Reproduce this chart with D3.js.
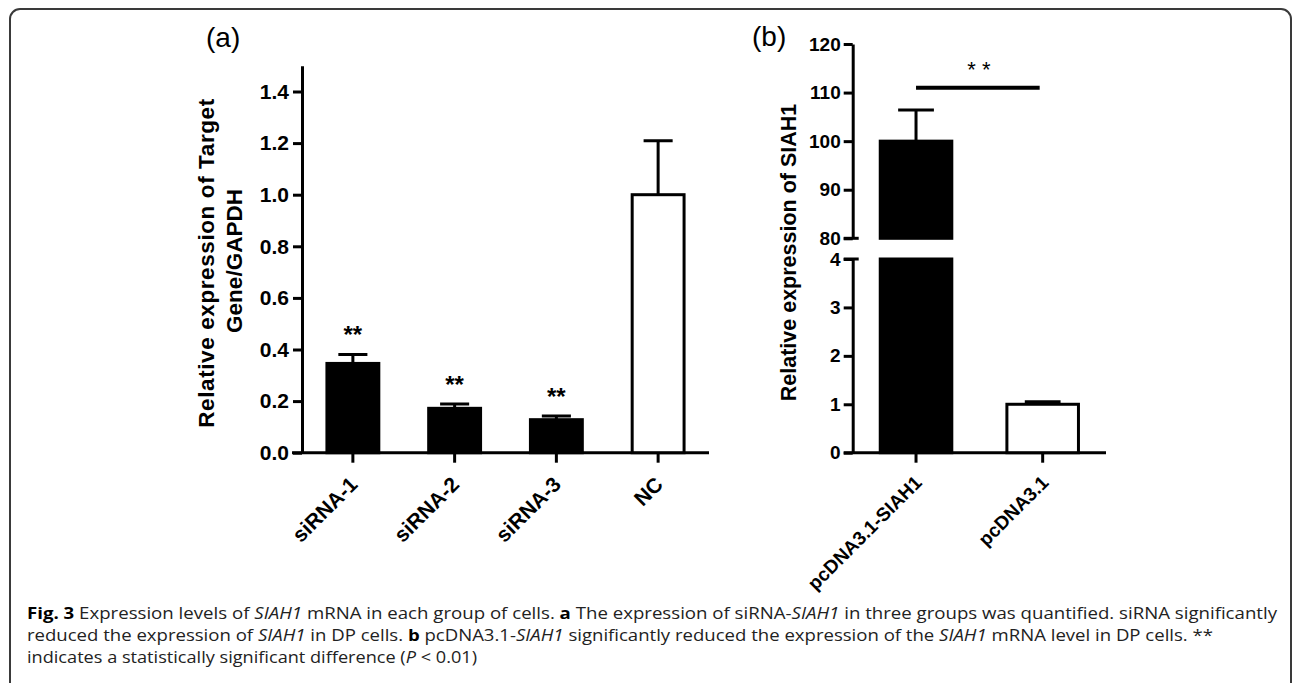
<!DOCTYPE html>
<html>
    <head>
        <title>Expression levels of SIAH1 mRNA</title>
        <script src="https://d3js.org/d3.v7.min.js"></script>
        <style>
            * {
                box-sizing: border-box;
                margin: 0;
                padding: 0;
            }

            body {
                overflow: hidden;
                background-color: #ffffff;
            }

            svg {
                display: block;
            }

            .chart text {
                font-family: 'Liberation Sans', Arial, sans-serif;
                fill: #000;
            }

            .axis path,
            .axis line {
                stroke: #000;
                stroke-width: 3px;
            }

            .caption {
                font-family: 'Open Sans', sans-serif;
                font-size: 16.5px;
                fill: #222;
            }
        </style>
    </head>
    <body>
        <script>
            // panel (a): siRNA knockdown
            const groupsA = ['siRNA-1', 'siRNA-2', 'siRNA-3', 'NC'];
            const meanA = [0.346, 0.172, 0.128, 1.0];
            const errA = [0.035, 0.017, 0.014, 0.209];
            const starsA = ['**', '**', '**', ''];
            const ticksA = [0, 0.2, 0.4, 0.6, 0.8, 1.0, 1.2, 1.4];
            const controlA = 'NC';

            // panel (b): overexpression, broken y axis
            const groupsB = ['pcDNA3.1-SIAH1', 'pcDNA3.1'];
            const meanB = [100, 1.0];
            const errB = [6.4, 0.05];
            const ticksBLow = [0, 1, 2, 3, 4];
            const ticksBHigh = [80, 90, 100, 110, 120];
            const controlB = 'pcDNA3.1';
            const sigB = { from: 'pcDNA3.1-SIAH1', to: 'pcDNA3.1', value: 111, label: '* *' };

            const width = 1292;
            const height = 683;

            const svg = d3.select('body').append('svg').attr('width', width).attr('height', height);

            // outer frame of the figure
            svg.append('rect')
                .attr('x', 10)
                .attr('y', 9)
                .attr('width', 1281)
                .attr('height', 700)
                .attr('rx', 10)
                .attr('fill', 'none')
                .attr('stroke', '#3a3a3a')
                .attr('stroke-width', 2);

            const chart = svg.append('g').attr('class', 'chart');

            // ---------- panel (a) ----------
            const xA = d3.scaleBand().domain(groupsA).range([302, 709]).paddingInner(0.49).paddingOuter(0.245);
            const yA = d3.scaleLinear().domain([0, 1.5]).range([452.7, 65.7]);
            const dataA = groupsA.map((g, i) => ({ group: g, mean: meanA[i], err: errA[i], star: starsA[i] }));

            const gA = chart.append('g');

            const yAxisA = gA.append('g')
                .attr('class', 'axis')
                .attr('transform', `translate(${xA.range()[0]},0)`)
                .call(d3.axisLeft(yA).tickValues(ticksA).tickFormat(d3.format('.1f')).tickSize(9).tickSizeOuter(0).tickPadding(4));
            yAxisA.selectAll('text').attr('font-size', 21).attr('font-weight', 'bold').attr('font-family', null);

            const xAxisA = gA.append('g')
                .attr('class', 'axis')
                .attr('transform', `translate(0,${yA(0)})`)
                .call(d3.axisBottom(xA).tickSize(10).tickSizeOuter(0).tickFormat(''));
            xAxisA.select('.domain').attr('d', `M${xA.range()[0] - 10},0H${xA.range()[1]}`);

            gA.selectAll('.err')
                .data(dataA)
                .enter()
                .append('path')
                .attr('fill', 'none')
                .attr('stroke', '#000')
                .attr('stroke-width', 3)
                .attr('d', (d) => {
                    const cx = xA(d.group) + xA.bandwidth() / 2;
                    const hw = xA.bandwidth() * 0.28;
                    return `M${cx},${yA(d.mean)}V${yA(d.mean + d.err)}M${cx - hw},${yA(d.mean + d.err)}H${cx + hw}`;
                });

            gA.selectAll('.bar')
                .data(dataA)
                .enter()
                .append('rect')
                .attr('x', (d) => xA(d.group))
                .attr('y', (d) => yA(d.mean))
                .attr('width', xA.bandwidth())
                .attr('height', (d) => yA(0) - yA(d.mean))
                .attr('fill', (d) => (d.group === controlA ? '#fff' : '#000'))
                .attr('stroke', '#000')
                .attr('stroke-width', 3);

            gA.selectAll('.star')
                .data(dataA.filter((d) => d.star))
                .enter()
                .append('text')
                .attr('x', (d) => xA(d.group) + xA.bandwidth() / 2)
                .attr('y', (d) => yA(d.mean + d.err) - 11)
                .attr('text-anchor', 'middle')
                .attr('font-size', 24)
                .attr('font-weight', 'bold')
                .text((d) => d.star);

            gA.selectAll('.xlabel')
                .data(groupsA)
                .enter()
                .append('text')
                .attr('transform', (d) => `translate(${xA(d) + xA.bandwidth() / 2 + 6},${yA(0) + 33}) rotate(-45)`)
                .attr('text-anchor', 'end')
                .attr('font-size', 21)
                .attr('font-weight', 'bold')
                .text((d) => d);

            const titleA = gA.append('g').attr('font-size', 22.5).attr('font-weight', 'bold');
            titleA.append('text')
                .attr('transform', 'translate(214,263) rotate(-90)')
                .attr('text-anchor', 'middle')
                .attr('letter-spacing', 0.6)
                .text('Relative expression of Target');
            titleA.append('text')
                .attr('transform', 'translate(241.5,261) rotate(-90)')
                .attr('text-anchor', 'middle')
                .text('Gene/GAPDH');

            gA.append('text').attr('x', 206).attr('y', 47).attr('font-size', 28).text('(a)');

            // ---------- panel (b) ----------
            const xB = d3.scaleBand().domain(groupsB).range([852.7, 1106]).paddingInner(0.435).paddingOuter(0.2175);
            const yLow = d3.scaleLinear().domain([0, 4]).range([452.7, 259]);
            const yHigh = d3.scaleLinear().domain([80, 120]).range([238.3, 44]);
            const dataB = groupsB.map((g, i) => ({ group: g, mean: meanB[i], err: errB[i] }));
            const x0B = xB.range()[0];

            const gB = chart.append('g');

            [
                [yLow, ticksBLow],
                [yHigh, ticksBHigh],
            ].forEach(([scale, ticks]) => {
                const ax = gB.append('g')
                    .attr('class', 'axis')
                    .attr('transform', `translate(${x0B},0)`)
                    .call(d3.axisLeft(scale).tickValues(ticks).tickFormat(d3.format('d')).tickSize(9).tickSizeOuter(0).tickPadding(3));
                ax.selectAll('text').attr('font-size', 19).attr('font-weight', 'bold').attr('font-family', null);
            });

            // break marks reach across the axis
            [yHigh(80), yLow(4)].forEach((y) => {
                gB.append('line')
                    .attr('x1', x0B - 9)
                    .attr('x2', x0B + 6)
                    .attr('y1', y)
                    .attr('y2', y)
                    .attr('stroke', '#000')
                    .attr('stroke-width', 3);
            });

            const xAxisB = gB.append('g')
                .attr('class', 'axis')
                .attr('transform', `translate(0,${yLow(0)})`)
                .call(d3.axisBottom(xB).tickSize(10).tickSizeOuter(0).tickFormat(''));
            xAxisB.select('.domain').attr('d', `M${x0B - 9},0H${xB.range()[1]}`);

            // y position on the broken axis
            function yB(v) {
                return v > 4 ? yHigh(v) : yLow(v);
            }

            gB.selectAll('.err')
                .data(dataB)
                .enter()
                .append('path')
                .attr('fill', 'none')
                .attr('stroke', '#000')
                .attr('stroke-width', 3)
                .attr('d', (d) => {
                    const cx = xB(d.group) + xB.bandwidth() / 2;
                    const hw = xB.bandwidth() * 0.25;
                    return `M${cx},${yB(d.mean)}V${yB(d.mean + d.err)}M${cx - hw},${yB(d.mean + d.err)}H${cx + hw}`;
                });

            dataB.forEach((d) => {
                const fill = d.group === controlB ? '#fff' : '#000';
                const segs = [[yLow(0), yLow(Math.min(d.mean, 4))]];
                if (d.mean > 80) segs.push([yHigh(80), yHigh(d.mean)]);
                segs.forEach(([y0, y1]) => {
                    gB.append('rect')
                        .attr('x', xB(d.group))
                        .attr('y', y1)
                        .attr('width', xB.bandwidth())
                        .attr('height', y0 - y1)
                        .attr('fill', fill)
                        .attr('stroke', '#000')
                        .attr('stroke-width', 3);
                });
            });

            const sx1 = xB(sigB.from) + xB.bandwidth() / 2;
            const sx2 = xB(sigB.to) + xB.bandwidth() / 2 - 3;
            gB.append('line')
                .attr('x1', sx1)
                .attr('x2', sx2)
                .attr('y1', yHigh(sigB.value))
                .attr('y2', yHigh(sigB.value))
                .attr('stroke', '#000')
                .attr('stroke-width', 4);
            gB.append('text')
                .attr('x', (sx1 + sx2) / 2 + 1)
                .attr('y', yHigh(sigB.value) - 11)
                .attr('text-anchor', 'middle')
                .attr('font-size', 22)
                .text(sigB.label);

            gB.selectAll('.xlabel')
                .data(groupsB)
                .enter()
                .append('text')
                .attr('transform', (d) => `translate(${xB(d) + xB.bandwidth() / 2 + 7},${yLow(0) + 31}) rotate(-45)`)
                .attr('text-anchor', 'end')
                .attr('font-size', 19)
                .attr('font-weight', 'bold')
                .text((d) => d);

            gB.append('text')
                .attr('transform', 'translate(795.5,252.5) rotate(-90)')
                .attr('text-anchor', 'middle')
                .attr('font-size', 21.5)
                .attr('font-weight', 'bold')
                .text('Relative expression of SIAH1');

            gB.append('text').attr('x', 752).attr('y', 46).attr('font-size', 28).text('(b)');

            // ---------- caption ----------
            const captionLines = [
                {
                    len: 1250,
                    parts: [
                        ['b', 'Fig. 3'],
                        ['', ' Expression levels of '],
                        ['i', 'SIAH1'],
                        ['', ' mRNA in each group of cells. '],
                        ['b', 'a'],
                        ['', ' The expression of siRNA-'],
                        ['i', 'SIAH1'],
                        ['', ' in three groups was quantified. siRNA significantly'],
                    ],
                },
                {
                    len: 1186,
                    parts: [
                        ['', 'reduced the expression of '],
                        ['i', 'SIAH1'],
                        ['', ' in DP cells. '],
                        ['b', 'b'],
                        ['', ' pcDNA3.1-'],
                        ['i', 'SIAH1'],
                        ['', ' significantly reduced the expression of the '],
                        ['i', 'SIAH1'],
                        ['', ' mRNA level in DP cells. **'],
                    ],
                },
                {
                    len: 450,
                    parts: [
                        ['', 'indicates a statistically significant difference ('],
                        ['i', 'P'],
                        ['', ' < 0.01)'],
                    ],
                },
            ];

            captionLines.forEach((line, i) => {
                const t = svg.append('text')
                    .attr('class', 'caption')
                    .attr('x', 27)
                    .attr('y', 619 + i * 21.8)
                    .attr('textLength', line.len)
                    .attr('lengthAdjust', 'spacingAndGlyphs');
                line.parts.forEach(([style, str]) => {
                    t.append('tspan')
                        .attr('font-weight', style === 'b' ? 'bold' : null)
                        .attr('font-style', style === 'i' ? 'italic' : null)
                        .attr('fill', style === 'b' ? '#000' : null)
                        .text(str);
                });
            });
        </script>
    </body>
</html>
